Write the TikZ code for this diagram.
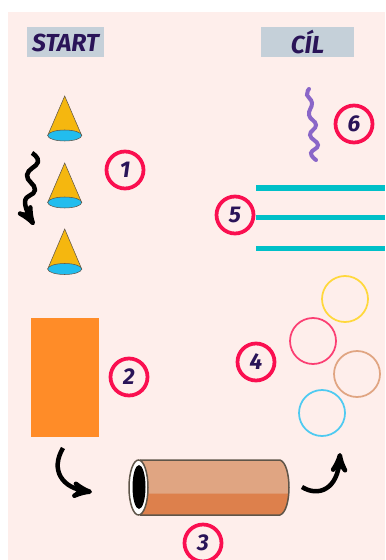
\documentclass[tikz,border=0pt]{standalone}
\usepackage{fontspec}
\setmainfont{Fira Sans}
\usetikzlibrary{arrows}

\definecolor{bgpink}{HTML}{FEEEEB}
\definecolor{labelgrey}{HTML}{C5D0D9}
\definecolor{inkpurple}{HTML}{2A1458}
\definecolor{numred}{HTML}{FA0F50}
\definecolor{coneyellow}{HTML}{F5B70F}
\definecolor{coneblue}{HTML}{22BDEE}
\definecolor{barteal}{HTML}{00C0C8}
\definecolor{rectorange}{HTML}{FF8C28}
\definecolor{tubelight}{HTML}{E0A582}
\definecolor{tubedark}{HTML}{DD804C}
\definecolor{tubeline}{HTML}{5F5549}
\definecolor{wavepurple}{HTML}{8A66C8}
\definecolor{ringyellow}{HTML}{FFD83C}

\tikzset{
  titlebox/.style={fill=labelgrey, text=inkpurple, inner sep=0pt, font=\bfseries\itshape\fontsize{14}{14}\selectfont},
  numcircle/.style={circle, draw=numred, line width=0.075cm, fill=bgpink, text=inkpurple, inner sep=0pt,
    minimum size=0.74cm, font=\bfseries\itshape\fontsize{13}{13}\selectfont},
  conebody/.style={fill=coneyellow, draw=tubeline, line width=0.3pt},
  conebase/.style={fill=coneblue, draw=tubeline, line width=0.3pt},
  bar/.style={draw=barteal, line width=0.12cm},
  ring/.style={line width=0.035cm},
  bentarrow/.style={->, draw=black, line width=0.09cm},
}

\begin{document}
\begin{tikzpicture}[x=0.02cm, y=-0.02cm, >=stealth']
  \useasboundingbox (0,0) rectangle (385,560);
  \fill [bgpink] (8,12) rectangle (385,560);

  \node [titlebox, minimum width=1.54cm, minimum height=0.6cm] (start) at (65.5,42.5) {START};
  \node [titlebox, minimum width=1.86cm, minimum height=0.6cm] (cil) at (307.5,42.5) {CÍL};

  % cones
  \draw [conebody] (47.7,135.5) -- (64.7,96) -- (81.7,135.5) -- cycle;
  \draw [conebase] (64.7,135.5) ellipse (17 and 5.5);
  \draw [conebody] (47.7,202.5) -- (64.7,163) -- (81.7,202.5) -- cycle;
  \draw [conebase] (64.7,202.5) ellipse (17 and 5.5);
  \draw [conebody] (47.7,269) -- (64.7,229) -- (81.7,269) -- cycle;
  \draw [conebase] (64.7,269) ellipse (17 and 5.5);

  \draw [bentarrow, line join=round] plot [smooth, tension=0.8] coordinates
    {(32,153) (38,162) (27,175) (35,190) (25,202) (34,225)};

  \fill [rectorange] (30.7,317.7) rectangle (98.7,436.7);

  \draw [bentarrow] (63,448) .. controls (50,470) and (62,488) .. (92,492);

  % tube
  \fill [tubelight] (140,460) -- (280,460) .. controls (286,462) and (289,475) .. (289,487.5)
    .. controls (289,500) and (286,513) .. (280,515) -- (140,515) -- cycle;
  \fill [tubedark] (140,493.5) -- (288.5,493.5) .. controls (288,503) and (285,513) .. (280,515) -- (140,515) -- cycle;
  \draw [tubeline, line width=0.03cm] (140,460) -- (280,460) .. controls (286,462) and (289,475) .. (289,487.5)
    .. controls (289,500) and (286,513) .. (280,515) -- (140,515);
  \draw [tubeline, fill=white, line width=0.03cm] (138.5,487.5) ellipse (9.5 and 27.5);
  \fill [black] (139,487) ellipse (6.5 and 22);

  \draw [bentarrow] (302,487) .. controls (318,497) and (338,490) .. (340,453);

  % rings
  \draw [ring, draw=ringyellow] (345,299) circle (23);
  \draw [ring, draw=numred!80!white] (313,341) circle (23);
  \draw [ring, draw=tubelight] (357,374) circle (23);
  \draw [ring, draw=coneblue!80!white] (322,413) circle (23);

  % bars
  \draw [bar] (256,188) -- (385,188);
  \draw [bar] (256,217.5) -- (385,217.5);
  \draw [bar] (256,248.5) -- (385,248.5);

  \draw [draw=wavepurple, line width=0.08cm, line cap=round] plot [smooth, tension=0.8] coordinates
    {(309,89) (307,95) (312,103) (309,115) (316,125) (310,135) (318,145) (311,153) (316,160)};

  \node [numcircle] (one) at (125,170) {1};
  \node [numcircle] (two) at (129,377) {2};
  \node [numcircle] (three) at (203,543) {3};
  \node [numcircle] (four) at (256,362) {4};
  \node [numcircle] (five) at (235,215) {5};
  \node [numcircle] (six) at (354,124) {6};
\end{tikzpicture}
\end{document}
